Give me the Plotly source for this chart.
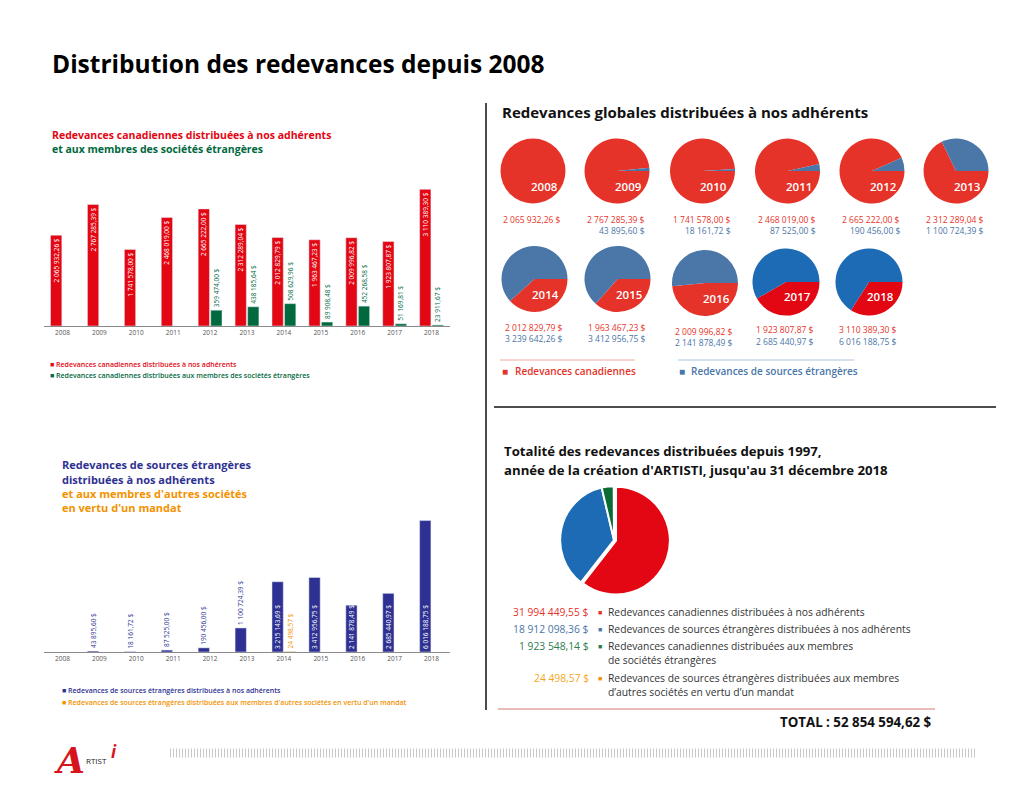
import plotly.graph_objects as go

# ---------------- DATA ----------------
years = ['2008', '2009', '2010', '2011', '2012', '2013', '2014', '2015', '2016', '2017', '2018']

# Chart 1: Canadian royalties
can_members = [2065932.26, 2767285.39, 1741578.00, 2468019.00, 2665222.00, 2312289.04,
               2012829.79, 1963467.23, 2009996.82, 1923807.87, 3110389.30]
can_foreign_soc = [None, None, None, None, 359474.00, 438185.64,
                   508629.96, 89908.48, 452268.58, 51169.81, 23911.67]

# Chart 2: Foreign-source royalties
foreign_members = [None, 43895.60, 18161.72, 87525.00, 190456.00, 1100724.39,
                   3215143.69, 3412956.75, 2141878.49, 2685440.97, 6016188.75]
foreign_mandate = [None, None, None, None, None, None,
                   24498.57, None, None, None, None]

# Small pies: global royalties to members
pie_canadian = [2065932.26, 2767285.39, 1741578.00, 2468019.00, 2665222.00, 2312289.04,
                2012829.79, 1963467.23, 2009996.82, 1923807.87, 3110389.30]
pie_foreign = [0, 43895.60, 18161.72, 87525.00, 190456.00, 1100724.39,
               3239642.26, 3412956.75, 2141878.49, 2685440.97, 6016188.75]

# Big pie: totals since 1997
total_labels = ['Redevances canadiennes distribuées à nos adhérents',
                'Redevances de sources étrangères distribuées à nos adhérents',
                'Redevances canadiennes distribuées aux membres<br>de sociétés étrangères',
                'Redevances de sources étrangères distribuées aux membres<br>d’autres sociétés en vertu d’un mandat']
total_values = [31994449.55, 18912098.36, 1923548.14, 24498.57]
total_sum_text = 'TOTAL : 52 854 594,62 $'

# ---------------- HELPERS ----------------
W, H = 1024, 791
FONT = 'Open Sans'


def X(p):
    return p / W


def Y(p):
    return 1 - p / H


def fr(v):
    if v is None:
        return ''
    s = f'{v:,.2f}'
    return s.replace(',', ' ').replace('.', ',') + ' $'


RED = '#e30613'
GREEN = '#00693e'
NAVY = '#2e3192'
ORANGE = '#f39200'
PRED = '#e6332a'
PBLUE = '#4a76a8'
PRED2 = '#e30613'
PBLUE2 = '#1d6bb5'

fig = go.Figure()
ann = []
shapes = []


def text(x, y, t, size, color='#000', weight=400, xanchor='left', yanchor='middle', family=FONT, italic=False):
    f = dict(family=family, size=size, color=color, weight=weight)
    if italic:
        f['style'] = 'italic'
    ann.append(dict(x=X(x), y=Y(y), xref='paper', yref='paper', text=t, showarrow=False,
                    xanchor=xanchor, yanchor=yanchor, font=f, align='left'))


# ---------------- BAR CHART 1 ----------------
fig.add_trace(go.Bar(
    x=years, y=can_members, marker_color=RED, xaxis='x', yaxis='y',
    text=[fr(v) for v in can_members], textposition='inside', insidetextanchor='end',
    textangle=-90, textfont=dict(family=FONT, size=6.5, color='white'),
    constraintext='none', cliponaxis=False, showlegend=False))
fig.add_trace(go.Bar(
    x=years, y=can_foreign_soc, marker_color=GREEN, xaxis='x', yaxis='y',
    text=[fr(v) for v in can_foreign_soc], textposition='outside',
    textangle=-90, textfont=dict(family=FONT, size=6.5, color=GREEN),
    constraintext='none', cliponaxis=False, showlegend=False))

# ---------------- BAR CHART 2 ----------------
fig.add_trace(go.Bar(
    x=years, y=foreign_members, marker_color=NAVY, xaxis='x2', yaxis='y2',
    text=[fr(v) for v in foreign_members],
    textposition=['outside'] * 6 + ['inside'] * 5, insidetextanchor='start',
    textangle=-90,
    outsidetextfont=dict(family=FONT, size=6.5, color=NAVY),
    insidetextfont=dict(family=FONT, size=6.5, color='white'),
    constraintext='none', cliponaxis=False, showlegend=False))
fig.add_trace(go.Bar(
    x=years, y=foreign_mandate, marker_color=ORANGE, xaxis='x2', yaxis='y2',
    text=[fr(v) for v in foreign_mandate], textposition='outside',
    textangle=-90, textfont=dict(family=FONT, size=6.5, color=ORANGE),
    constraintext='none', cliponaxis=False, showlegend=False))

axis_common = dict(showline=True, linecolor='#8a8a8a', linewidth=1, ticks='', showgrid=False,
                   tickfont=dict(family=FONT, size=6.5, color='#555'), fixedrange=True, ticklen=0)

# ---------------- SMALL PIES ----------------
pie_centers = [(533, 171), (617, 171), (702.5, 171), (787.5, 171), (872, 171), (956, 171),
               (534.5, 279), (617.5, 279), (705, 283), (786, 282), (869, 282)]
pie_r = [32.5] * 6 + [33, 33, 33, 33.5, 33.5]
for i, yr in enumerate(years):
    cx, cy = pie_centers[i]
    r = pie_r[i]
    bright = yr in ('2017', '2018')
    cols = [PRED2 if bright else PRED, PBLUE2 if bright else PBLUE]
    fig.add_trace(go.Pie(
        values=[pie_canadian[i], pie_foreign[i]], labels=['Canadiennes', 'Étrangères'],
        marker=dict(colors=cols, line=dict(width=0)), textinfo='none', sort=False,
        direction='clockwise', rotation=90, hoverinfo='skip',
        domain=dict(x=[X(cx - r), X(cx + r)], y=[Y(cy + r), Y(cy - r)]), showlegend=False))
    text(cx + 11, cy + 15, yr, 11.5, 'white', 600, xanchor='center')
    text(cx + 30, cy + 48, fr(pie_canadian[i]), 8.5, PRED, 400, xanchor='right')
    if pie_foreign[i]:
        text(cx + 30, cy + 59, fr(pie_foreign[i]), 8.5, PBLUE, 400, xanchor='right')

# ---------------- BIG PIE ----------------
bcx, bcy, br = 614, 540, 56
fig.add_trace(go.Pie(
    values=total_values, labels=total_labels,
    marker=dict(colors=[PRED2, PBLUE2, '#0b6b35', ORANGE], line=dict(color='white', width=2)),
    pull=[0.04, 0, 0, 0], textinfo='none', sort=False, direction='clockwise', rotation=0,
    hoverinfo='skip',
    domain=dict(x=[X(bcx - br), X(bcx + br)], y=[Y(bcy + br), Y(bcy - br)]), showlegend=False))

# ---------------- TEXTS ----------------
text(50, 63, 'Distribution des redevances depuis 2008', 24.5, '#000', 700)

# Chart 1 titles / legend
text(50, 135, 'Redevances canadiennes distribuées à nos adhérents', 10.5, RED, 700)
text(50, 149, 'et aux membres des sociétés étrangères', 10.5, GREEN, 700)
text(48, 364, '■ Redevances canadiennes distribuées à nos adhérents', 7, RED, 600)
text(48, 375, '■ Redevances canadiennes distribuées aux membres des sociétés étrangères', 7, GREEN, 600)

# Chart 2 titles / legend
text(60, 465, 'Redevances de sources étrangères', 11, NAVY, 700)
text(60, 479, 'distribuées à nos adhérents', 11, NAVY, 700)
text(60, 493, "et aux membres d'autres sociétés", 11, ORANGE, 700)
text(60, 507, "en vertu d'un mandat", 11, ORANGE, 700)
text(60, 690, '■ Redevances de sources étrangères distribuées à nos adhérents', 7, NAVY, 600)
text(60, 702, "■ Redevances de sources étrangères distribuées aux membres d'autres sociétés en vertu d'un mandat", 7, ORANGE, 600)

# Right top
text(500, 112, 'Redevances globales distribuées à nos adhérents', 15, '#111', 700)
text(500, 371, '■', 10, PRED, 700)
text(513, 371, 'Redevances canadiennes', 10, PRED, 600)
text(677, 371, '■', 10, PBLUE, 700)
text(689, 371, 'Redevances de sources étrangères', 10, PBLUE, 600)

# Right bottom
text(502, 451, 'Totalité des redevances distribuées depuis 1997,', 13.2, '#111', 700)
text(502, 470, "année de la création d'ARTISTI, jusqu'au 31 décembre 2018", 13.2, '#111', 700)

val_colors = [PRED, PBLUE, '#2e7d4f', '#f5a623']
sq_colors = [PRED, PBLUE, '#2e7d4f', ORANGE]
rows_y = [612, 629, 646, 678]
for i in range(4):
    yv = rows_y[i]
    text(591, yv, fr(total_values[i]), 10.3, val_colors[i], 400, xanchor='right')
    text(596, yv, '■', 7, sq_colors[i], 400)
    lines = total_labels[i].split('<br>')
    for j, ln in enumerate(lines):
        text(606, yv + j * 14, ln, 10.3, '#333', 400)

text(934, 722, total_sum_text, 13.3, '#111', 700, xanchor='right')

# Logo
text(69, 760, 'A', 36, '#d7141d', 700, xanchor='center', family='DejaVu Serif', italic=True)
text(84, 760, 'RTIST', 8, '#222', 400)
text(114, 751, 'i', 17, '#d7141d', 700, xanchor='center', italic=True)

# ---------------- SHAPES ----------------
shapes.append(dict(type='line', xref='paper', yref='paper', x0=X(486), x1=X(486), y0=Y(103), y1=Y(710),
                   line=dict(color='#111', width=1.5)))
shapes.append(dict(type='line', xref='paper', yref='paper', x0=X(494), x1=X(996), y0=Y(407), y1=Y(407),
                   line=dict(color='#111', width=1.5)))
shapes.append(dict(type='line', xref='paper', yref='paper', x0=X(500), x1=X(635), y0=Y(360), y1=Y(360),
                   line=dict(color='#f2a9a4', width=1)))
shapes.append(dict(type='line', xref='paper', yref='paper', x0=X(678), x1=X(854), y0=Y(360), y1=Y(360),
                   line=dict(color='#a9c3e0', width=1)))
shapes.append(dict(type='line', xref='paper', yref='paper', x0=X(498), x1=X(935), y0=Y(709), y1=Y(709),
                   line=dict(color='#e2a5a5', width=1.5)))
shapes.append(dict(type='line', xref='paper', yref='paper', x0=X(170), x1=X(975), y0=Y(753), y1=Y(753),
                   line=dict(color='#c9c9c9', width=9, dash='1px,2px')))

fig.update_layout(
    width=W, height=H, margin=dict(l=0, r=0, t=0, b=0),
    paper_bgcolor='white', plot_bgcolor='white',
    barmode='group', bargap=0.32, bargroupgap=0.1,
    font=dict(family=FONT),
    xaxis=dict(domain=[X(44), X(450)], anchor='y', **axis_common),
    yaxis=dict(domain=[Y(326), Y(181)], range=[0, 3.3e6], visible=False, fixedrange=True),
    xaxis2=dict(domain=[X(44), X(450)], anchor='y2', **axis_common),
    yaxis2=dict(domain=[Y(652), Y(510)], range=[0, 6.5e6], visible=False, fixedrange=True),
    annotations=ann, shapes=shapes,
)

fig.write_html('out.html', config={'displayModeBar': False},
               post_script="document.body.style.margin='0';document.body.style.overflow='hidden';")
